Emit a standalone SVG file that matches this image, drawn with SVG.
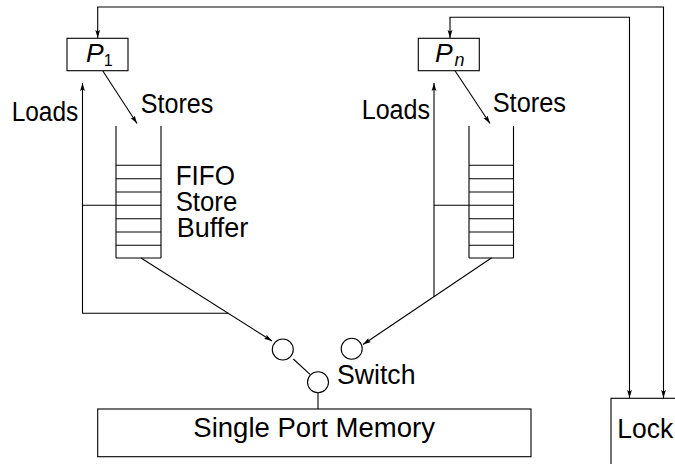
<svg xmlns="http://www.w3.org/2000/svg" width="675" height="464" viewBox="0 0 675 464">
<style>
.ln{fill:none;stroke:#000;stroke-width:1.1}
.box{fill:#fff;stroke:#000;stroke-width:1.1}
.t{font-family:"Liberation Sans",Arial,sans-serif;font-size:27px;fill:#000}
.sub{font-family:"Liberation Sans",Arial,sans-serif;font-size:16px;fill:#000}
.it{font-family:"Liberation Sans",Arial,sans-serif;font-style:italic;fill:#000}
.ar{marker-end:url(#ah)}
.ar2{marker-start:url(#ah);marker-end:url(#ah)}
</style>
<defs>
<marker id="ah" viewBox="0 0 8 6" refX="8" refY="3" markerWidth="8" markerHeight="6" markerUnits="userSpaceOnUse" orient="auto-start-reverse">
<path d="M0,0.6 L8,3 L0,5.4 L1.5,3 z" fill="#000"/>
</marker>
</defs>
<rect width="675" height="464" fill="#fff"/>

<g id="connectors">
<path class="ln ar2" d="M663.5,398 V7 H97.7 V38"/>
<path class="ln ar2" d="M629.5,398 V17.3 H450 V38"/>
<line class="ln ar" x1="102.7" y1="70.7" x2="137" y2="123.5"/>
<line class="ln ar" x1="455" y1="70.7" x2="490" y2="123.5"/>
<path class="ln ar" d="M228,313.3 H82.5 V83"/>
<line class="ln" x1="82.5" y1="205.3" x2="116" y2="205.3"/>
<path class="ln ar" d="M434,296.7 V83"/>
<line class="ln" x1="434" y1="205.3" x2="469" y2="205.3"/>
<line class="ln ar" x1="141" y1="258" x2="272" y2="341"/>
<line class="ln ar" x1="491.7" y1="257.7" x2="363" y2="344.5"/>
<line class="ln" x1="293.3" y1="359" x2="310" y2="374.3"/>
<line class="ln" x1="318" y1="392.7" x2="318" y2="409"/>
</g>

<g id="p1">
<rect class="box" x="67" y="38.3" width="61" height="32.4"/>
<text class="it" x="86" y="62.3" font-size="26.5">P</text>
<text class="sub" x="103.8" y="66">1</text>
</g>

<g id="pn">
<rect class="box" x="418.3" y="38.3" width="61" height="32.4"/>
<text class="it" x="435" y="62.3" font-size="26.5">P</text>
<text class="it" x="454.5" y="66" font-size="18">n</text>
</g>

<g id="buffer1">
<path class="ln" d="M116,126 V258 M161,126 V258 M116,165.3 H161 M116,178.7 H161 M116,192 H161 M116,205.3 H161 M116,218.7 H161 M116,232 H161 M116,245.3 H161 M116,258 H161"/>
</g>

<g id="buffer2">
<path class="ln" d="M469,126 V258 M513.5,126 V258 M469,165.3 H513.5 M469,178.7 H513.5 M469,192 H513.5 M469,205.3 H513.5 M469,218.7 H513.5 M469,232 H513.5 M469,245.3 H513.5 M469,258 H513.5"/>
</g>

<g id="labels">
<text class="t" x="11.7" y="120.7" textLength="66.6" lengthAdjust="spacingAndGlyphs">Loads</text>
<text class="t" x="140.7" y="113.3" textLength="72.6" lengthAdjust="spacingAndGlyphs">Stores</text>
<text class="t" x="175.7" y="185" textLength="59.3" lengthAdjust="spacingAndGlyphs">FIFO</text>
<text class="t" x="175.7" y="211" textLength="61.6" lengthAdjust="spacingAndGlyphs">Store</text>
<text class="t" x="176.7" y="236.7" textLength="71.6" lengthAdjust="spacingAndGlyphs">Buffer</text>
<text class="t" x="361.7" y="119" textLength="68.3" lengthAdjust="spacingAndGlyphs">Loads</text>
<text class="t" x="492.7" y="112" textLength="73.3" lengthAdjust="spacingAndGlyphs">Stores</text>
</g>

<g id="switch">
<circle class="box" cx="282.8" cy="349.5" r="10.5"/>
<circle class="box" cx="351.7" cy="348.8" r="10.5"/>
<circle class="box" cx="318" cy="382.2" r="10.5"/>
<text class="t" x="337" y="384.3" textLength="78.5" lengthAdjust="spacingAndGlyphs">Switch</text>
</g>

<g id="memory">
<rect class="box" x="97.7" y="409" width="433.3" height="47.7"/>
<text class="t" x="193.3" y="436.7" textLength="241.7" lengthAdjust="spacingAndGlyphs">Single Port Memory</text>
</g>

<g id="lock">
<rect class="box" x="611" y="398.3" width="100" height="100"/>
<text class="t" x="617.3" y="438.3" textLength="56" lengthAdjust="spacingAndGlyphs">Lock</text>
</g>
</svg>
